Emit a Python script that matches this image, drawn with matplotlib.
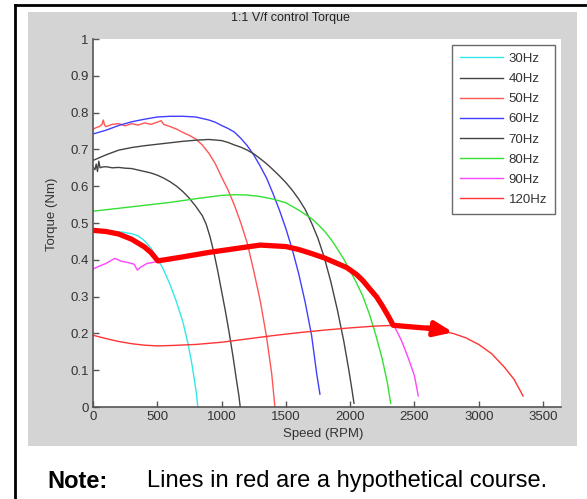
import numpy as np
import matplotlib
matplotlib.use('Agg')
import matplotlib.pyplot as plt
from matplotlib.patches import Rectangle
from matplotlib.lines import Line2D

plt.rcParams['font.family'] = ['Liberation Sans', 'DejaVu Sans']

# Datos (velocidad en RPM, par en Nm)
x30 = [0, 100, 200, 250, 300, 350, 400, 450, 500, 550, 600, 650, 700, 740, 770, 790, 805, 815]
y30 = [0.48, 0.479, 0.476, 0.474, 0.471, 0.465, 0.452, 0.432, 0.405, 0.372, 0.332, 0.285, 0.23, 0.17, 0.115, 0.07, 0.035, 0.0]

x40 = [0, 15, 25, 35, 45, 55, 70, 100, 150, 200, 250, 300, 350, 400, 450, 500, 550, 600, 650, 700, 750, 800,
       850, 880, 910, 940, 970, 1000, 1030, 1060, 1090, 1115, 1135, 1145]
y40 = [0.652, 0.645, 0.66, 0.64, 0.668, 0.65, 0.652, 0.653, 0.65, 0.651, 0.649, 0.648, 0.644, 0.64, 0.636, 0.63,
       0.622, 0.612, 0.6, 0.585, 0.567, 0.545, 0.52, 0.497, 0.463, 0.42, 0.37, 0.315, 0.26, 0.2, 0.135, 0.075, 0.03, 0.0]

x50 = [0, 30, 50, 70, 80, 90, 100, 150, 200, 250, 300, 350, 400, 450, 500, 530, 550, 600, 650, 700, 750, 800,
       850, 900, 950, 1000, 1050, 1100, 1150, 1200, 1250, 1300, 1350, 1390, 1415]
y50 = [0.755, 0.76, 0.762, 0.768, 0.78, 0.766, 0.762, 0.768, 0.77, 0.764, 0.77, 0.766, 0.772, 0.768, 0.774, 0.778,
       0.768, 0.762, 0.755, 0.746, 0.738, 0.728, 0.712, 0.69, 0.662, 0.625, 0.59, 0.548, 0.50, 0.445, 0.37, 0.29,
       0.19, 0.09, 0.0]

x60 = [0, 100, 200, 300, 400, 500, 600, 700, 800, 900, 950, 1000, 1050, 1100, 1150, 1200, 1250, 1300, 1350,
       1400, 1450, 1500, 1550, 1600, 1650, 1700, 1740, 1765]
y60 = [0.742, 0.752, 0.765, 0.775, 0.782, 0.788, 0.79, 0.79, 0.788, 0.78, 0.774, 0.765, 0.757, 0.747, 0.73,
       0.71, 0.685, 0.655, 0.622, 0.58, 0.535, 0.485, 0.428, 0.362, 0.285, 0.195, 0.09, 0.035]

x70 = [0, 100, 200, 300, 400, 500, 600, 700, 800, 900, 1000, 1050, 1100, 1150, 1200, 1250, 1300, 1350, 1400,
       1450, 1500, 1550, 1600, 1650, 1700, 1750, 1800, 1850, 1900, 1950, 1990, 2015, 2030]
y70 = [0.67, 0.685, 0.698, 0.705, 0.71, 0.714, 0.718, 0.722, 0.725, 0.727, 0.724, 0.719, 0.712, 0.706, 0.698,
       0.688, 0.675, 0.661, 0.645, 0.628, 0.61, 0.589, 0.565, 0.537, 0.5, 0.458, 0.405, 0.34, 0.265, 0.18, 0.1,
       0.045, 0.01]

x80 = [0, 200, 400, 600, 800, 1000, 1100, 1200, 1300, 1400, 1500, 1600, 1700, 1750, 1800, 1850, 1900, 1950,
       2000, 2050, 2100, 2150, 2200, 2250, 2290, 2315]
y80 = [0.532, 0.54, 0.548, 0.556, 0.566, 0.575, 0.577, 0.576, 0.572, 0.565, 0.555, 0.535, 0.512, 0.496,
       0.478, 0.456, 0.43, 0.402, 0.37, 0.337, 0.3, 0.252, 0.195, 0.13, 0.065, 0.01]

x90 = [0, 50, 100, 170, 220, 280, 320, 345, 370, 420, 500, 700, 900, 1100, 1300, 1500, 1700, 1800, 1900,
       2000, 2100, 2200, 2300, 2350, 2400, 2450, 2500, 2530]
y90 = [0.375, 0.383, 0.39, 0.404, 0.396, 0.392, 0.388, 0.372, 0.38, 0.39, 0.395, 0.407, 0.42, 0.432, 0.442,
       0.437, 0.42, 0.408, 0.393, 0.375, 0.345, 0.30, 0.245, 0.215, 0.18, 0.135, 0.085, 0.03]

x120 = [0, 100, 200, 300, 400, 500, 600, 800, 1000, 1200, 1400, 1600, 1800, 2000, 2200, 2350, 2500, 2650,
        2800, 2900, 3000, 3100, 3200, 3275, 3345]
y120 = [0.195, 0.186, 0.178, 0.172, 0.168, 0.166, 0.167, 0.17, 0.176, 0.185, 0.194, 0.202, 0.209, 0.215,
        0.22, 0.222, 0.218, 0.21, 0.2, 0.188, 0.17, 0.145, 0.108, 0.075, 0.03]

# Curso hipotetico (linea roja gruesa con flecha)
x_curso = [0, 100, 200, 300, 400, 450, 505, 700, 900, 1100, 1300, 1500, 1600, 1700, 1800, 1900, 1973, 2050,
           2100, 2150, 2206, 2250, 2300, 2335, 2500, 2640]
y_curso = [0.48, 0.477, 0.47, 0.456, 0.435, 0.42, 0.397, 0.408, 0.42, 0.43, 0.44, 0.436, 0.428, 0.417,
           0.405, 0.39, 0.379, 0.36, 0.343, 0.322, 0.299, 0.275, 0.245, 0.222, 0.217, 0.213]
flecha_fin = (2800, 0.203)

etiquetas = ['30Hz', '40Hz', '50Hz', '60Hz', '70Hz', '80Hz', '90Hz', '120Hz']
colores = ['#33e8e8', '#444444', '#ff5555', '#3f3fff', '#444444', '#33e033', '#ff44ff', '#ff3333']
series = [(x30, y30), (x40, y40), (x50, y50), (x60, y60), (x70, y70), (x80, y80), (x90, y90), (x120, y120)]

W, H = 587, 499
fig = plt.figure(figsize=(W / 100, H / 100), dpi=100)
fig.patch.set_facecolor('white')

# Fondo gris de la figura y marco negro de la pagina
fondo = Rectangle((28 / W, 1 - 446 / H), (577 - 28) / W, (446 - 12) / H,
                  transform=fig.transFigure, facecolor='#d4d4d4', edgecolor='none', zorder=-10)
fig.add_artist(fondo)
fig.add_artist(Line2D([15 / W, 15 / W], [0, 1 - 5 / H], transform=fig.transFigure, color='black', lw=2, zorder=-5))
fig.add_artist(Line2D([15 / W, 1], [1 - 5 / H, 1 - 5 / H], transform=fig.transFigure, color='black', lw=2, zorder=-5))

ax = fig.add_axes([93 / W, 1 - 407 / H, (561 - 93) / W, (407 - 39) / H])
ax.set_facecolor('white')

for (xs, ys), c, lab in zip(series, colores, etiquetas):
    ax.plot(xs, ys, color=c, lw=1.0, label=lab)

ax.plot(x_curso, y_curso, color='red', lw=3.8, solid_capstyle='butt', solid_joinstyle='round')
ax.annotate('', xy=flecha_fin, xytext=(x_curso[-1] - 40, y_curso[-1] + 0.002),
            arrowprops=dict(arrowstyle='-|>,head_length=1.1,head_width=0.45', color='red', lw=3.5,
                            shrinkA=0, shrinkB=0))

ax.set_xlim(0, 3640)
ax.set_ylim(0, 1)
ax.set_xticks(np.arange(0, 3501, 500))
ax.set_yticks(np.arange(0, 1.01, 0.1))
ax.set_yticklabels(['0', '0.1', '0.2', '0.3', '0.4', '0.5', '0.6', '0.7', '0.8', '0.9', '1'])
for s in ['top', 'right']:
    ax.spines[s].set_visible(False)
for s in ['left', 'bottom']:
    ax.spines[s].set_color('#555555')
    ax.spines[s].set_linewidth(1.2)
ax.tick_params(direction='in', length=4, width=1, color='#555555', labelsize=9.5,
               labelcolor='#333333', pad=3)

fig.text(290 / W, 1 - 18 / H, '1:1 V/f control Torque', fontsize=9, color='#222222', ha='center', va='center')
ax.set_xlabel('Speed (RPM)', fontsize=9.5, color='#333333')
ax.xaxis.set_label_coords(0.491, -0.058)
ax.set_ylabel('Torque (Nm)', fontsize=9.5, color='#333333')
ax.yaxis.set_label_coords(-0.075, 0.524)

leg = ax.legend(loc='upper right', bbox_to_anchor=(0.987, 0.984), borderaxespad=0,
                fontsize=9.5, handlelength=3.26, labelspacing=0.6, handletextpad=0.45,
                fancybox=False, frameon=True, borderpad=0.6)
leg.get_frame().set_edgecolor('#444444')
leg.get_frame().set_linewidth(1.0)
for t in leg.get_texts():
    t.set_color('#333333')

fig.text(47 / W, 1 - 481 / H, 'Note:', fontsize=17, fontweight='bold', va='center', ha='left')
fig.text(147 / W, 1 - 481 / H, 'Lines in red are a hypothetical course.', fontsize=17, va='center', ha='left')

fig.savefig('out.png', dpi=100)
